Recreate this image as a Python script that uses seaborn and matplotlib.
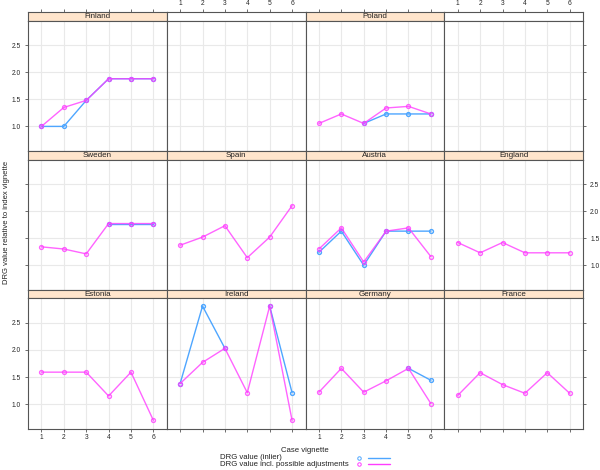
import matplotlib
matplotlib.use("Agg")
import matplotlib.pyplot as plt
import seaborn as sns
import numpy as np
import pandas as pd

nan = np.nan
cases = [1, 2, 3, 4, 5, 6]
y_ticks = [1.0, 1.5, 2.0, 2.5]

# panel layout row by row, None = empty panel
layout = [
    ["Finland", None, "Poland", None],
    ["Sweden", "Spain", "Austria", "England"],
    ["Estonia", "Ireland", "Germany", "France"],
]

drg_inlier = {
    "Finland": [1.00, 1.00, 1.48, 1.88, 1.88, 1.88],
    "Poland":  [nan, nan, 1.055, 1.23, 1.23, 1.23],
    "Sweden":  [nan, nan, nan, 1.77, 1.77, 1.77],
    "Austria": [1.24, 1.63, 1.00, 1.63, 1.63, 1.63],
    "Ireland": [1.38, 2.81, 2.03, nan, 2.81, 1.21],
    "Germany": [nan, nan, nan, nan, 1.66, 1.44],
}

drg_adjusted = {
    "Finland": [1.00, 1.35, 1.48, 1.88, 1.88, 1.88],
    "Poland":  [1.055, 1.23, 1.055, 1.34, 1.37, 1.23],
    "Sweden":  [1.34, 1.30, 1.21, 1.77, 1.77, 1.77],
    "Spain":   [1.37, 1.52, 1.73, 1.14, 1.52, 2.10],
    "Austria": [1.30, 1.69, 1.06, 1.63, 1.69, 1.16],
    "England": [1.42, 1.23, 1.42, 1.23, 1.23, 1.23],
    "Estonia": [1.59, 1.59, 1.59, 1.15, 1.59, 0.70],
    "Ireland": [1.38, 1.77, 2.03, 1.21, 2.81, 0.70],
    "Germany": [1.22, 1.66, 1.22, 1.43, 1.66, 1.01],
    "France":  [1.16, 1.58, 1.36, 1.20, 1.58, 1.20],
}

blue = "#4ea6ff"
magenta = "#ff3dff"
frame = "#555555"
strip_col = "#ffe5cc"


def segments(values):
    # split a series at missing values so gaps stay open
    rows, seg = [], 0
    for x, v in zip(cases, values):
        if np.isnan(v):
            seg += 1
            continue
        rows.append((x, v, seg))
    return pd.DataFrame(rows, columns=["case", "value", "seg"])


def draw(ax, values, color, alpha=1.0):
    df = segments(values)
    sns.lineplot(data=df, x="case", y="value", units="seg", estimator=None,
                 color=color, lw=1.0, alpha=alpha, marker="o", markersize=2.8,
                 markerfacecolor="none", markeredgecolor=color,
                 markeredgewidth=1.0, legend=False, ax=ax)


sns.set_style("white")
plt.rcParams["font.family"] = ["Liberation Sans", "DejaVu Sans"]

W, H = 600, 470
fig = plt.figure(figsize=(6, 4.7), dpi=100)

col_x = [28, 166.7, 305.5, 444.3]
col_w = 138.8
row_top0, row_pitch = 12.3, 138.85
strip_h, panel_h = 8.4, 130.4
xlim = (0.4, 6.6)
ylim = (0.544, 2.952)
fs_tick = 4.8


def fig_rect(x, y_top, w, h):
    return [x / W, 1 - (y_top + h) / H, w / W, h / H]


for r, row in enumerate(layout):
    for c, country in enumerate(row):
        top = row_top0 + r * row_pitch
        # strip
        sax = fig.add_axes(fig_rect(col_x[c], top, col_w, strip_h))
        sax.set_facecolor(strip_col if country else "white")
        sax.set_xlim(xlim)
        sax.set_ylim(0, 1)
        sax.set_yticks([])
        sax.set_xticks(cases)
        sax.tick_params(axis="x", which="both", bottom=False, labelbottom=False,
                        top=(r == 0), labeltop=(r == 0 and c % 2 == 1),
                        direction="out", length=2.5, width=0.6, pad=1.5,
                        labelsize=fs_tick, color=frame)
        for s in sax.spines.values():
            s.set_color(frame)
            s.set_linewidth(0.8)
        if country:
            sax.text(0.5, 0.45, country, transform=sax.transAxes,
                     ha="center", va="center", fontsize=5.8, color="#222222")

        # panel
        ax = fig.add_axes(fig_rect(col_x[c], top + strip_h, col_w, panel_h))
        ax.set_facecolor("white")
        ax.set_xticks(cases)
        ax.set_yticks(y_ticks)
        ax.set_xticklabels([str(v) for v in cases])
        ax.set_yticklabels(["%.1f" % v for v in y_ticks])
        ax.grid(True, color="#e9e9e9", lw=0.8)
        ax.set_axisbelow(True)

        if country in drg_inlier:
            draw(ax, drg_inlier[country], blue)
        if country in drg_adjusted:
            draw(ax, drg_adjusted[country], magenta, alpha=0.8)

        ax.set_xlim(xlim)
        ax.set_ylim(ylim)
        ax.set_xlabel("")
        ax.set_ylabel("")

        left_ticks = c == 0
        right_ticks = c == 3
        ax.tick_params(axis="y", left=left_ticks, labelleft=left_ticks and r != 1,
                       right=right_ticks, labelright=right_ticks and r == 1,
                       direction="out", length=2.5, width=0.6, pad=2.5,
                       labelsize=fs_tick, color=frame)
        ax.tick_params(axis="x", top=False, labeltop=False,
                       bottom=(r == 2), labelbottom=(r == 2 and c % 2 == 0),
                       direction="out", length=2.5, width=0.6, pad=1.5,
                       labelsize=fs_tick, color=frame)
        for s in ax.spines.values():
            s.set_color(frame)
            s.set_linewidth(0.8)

# axis titles
fig.text(7 / W, 1 - 222 / H, "DRG value relative to index vignette",
         rotation=90, ha="center", va="center", fontsize=5.5, color="#222222")
fig.text(305 / W, 1 - 450.5 / H, "Case vignette", ha="center", va="center",
         fontsize=5.6, color="#222222")

# legend at bottom
legend_items = [("DRG value (inlier)", blue),
                ("DRG value incl. possible adjustments", magenta)]
for i, (label, color) in enumerate(legend_items):
    yy = 1 - (457.7 + i * 6.6) / H
    fig.text(220 / W, yy, label, ha="left", va="center", fontsize=5.6,
             color="#222222")
    fig.lines.append(plt.Line2D([359 / W], [yy], marker="o", markersize=2.5,
                                markerfacecolor="none", markeredgecolor=color,
                                markeredgewidth=0.7, transform=fig.transFigure))
    fig.lines.append(plt.Line2D([368 / W, 390 / W], [yy, yy], color=color,
                                lw=1.0, transform=fig.transFigure))

fig.savefig("out.png", dpi=100)
